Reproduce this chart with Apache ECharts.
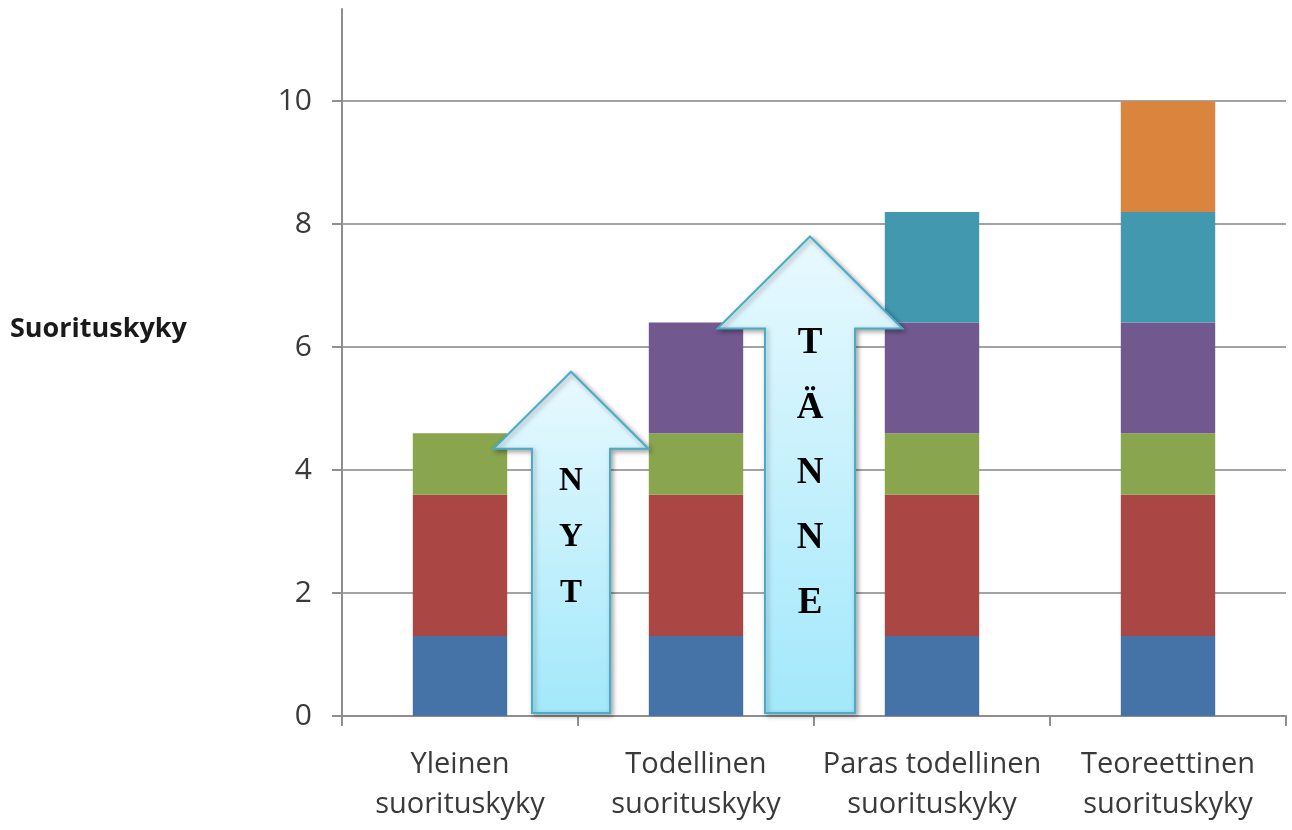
<!DOCTYPE html>
<html>
<head>
<meta charset="utf-8">
<script src="https://cdn.jsdelivr.net/npm/echarts@6/dist/echarts.min.js"></script>
<style>
  html, body { margin: 0; padding: 0; background: #fff; }
  #chart { width: 1292px; height: 830px; }
</style>
</head>
<body>
<div id="chart"></div>
<script>
// Categories along the x axis
const categories = [
  'Yleinen\nsuorituskyky',
  'Todellinen\nsuorituskyky',
  'Paras todellinen\nsuorituskyky',
  'Teoreettinen\nsuorituskyky'
];

// Stacked segment heights per category (bottom to top)
const segBlue   = [1.3, 1.3, 1.3, 1.3];
const segRed    = [2.3, 2.3, 2.3, 2.3];
const segGreen  = [1.0, 1.0, 1.0, 1.0];
const segPurple = [null, 1.8, 1.8, 1.8];
const segTeal   = [null, null, 1.8, 1.8];
const segOrange = [null, null, null, 1.8];

// Y axis ticks
const yTicks = [0, 2, 4, 6, 8, 10];

// Arrows: left category index, value of the tip, and the word written inside
const arrowLeftCategory = [0, 1];
const arrowTipValues = [5.6, 7.8];
const arrowWords = ['NYT', 'TÄNNE'];

// Arrow drawing styles (pixels)
const arrowStyles = [
  { dx: -7, shaft: 78, head: 155, headH: 77, font: 33, first: 33, step: 56 },
  { dx: -4, shaft: 90, head: 185, headH: 92, font: 37, first: 15, step: 65 }
];

const segColors = ['#4572A7', '#AA4643', '#89A54E', '#71588F', '#4198AF', '#DB843D'];
const segData = [segBlue, segRed, segGreen, segPurple, segTeal, segOrange];

const barSeries = segData.map((d, i) => ({
  type: 'bar',
  stack: 'total',
  data: d,
  barWidth: '40%',
  itemStyle: { color: segColors[i] },
  z: 2
}));

function renderArrow(params, api) {
  const idx = params.dataIndex;
  const st = arrowStyles[idx];
  const left = api.value(0);
  const pL = api.coord([left, 0]);
  const pR = api.coord([left + 1, 0]);
  const cx = (pL[0] + pR[0]) / 2 + st.dx;
  const yBot = pL[1] - 3;
  const yTip = api.coord([left, api.value(1)])[1];
  const yBase = yTip + st.headH;
  const hs = st.shaft / 2, hh = st.head / 2;
  const pts = [
    [cx, yTip], [cx + hh, yBase], [cx + hs, yBase], [cx + hs, yBot],
    [cx - hs, yBot], [cx - hs, yBase], [cx - hh, yBase]
  ];
  const word = Array.from(arrowWords[idx]);
  const letters = word.map((ch, k) => ({
    type: 'text',
    style: {
      text: ch,
      x: cx,
      y: yBase + st.first + k * st.step,
      align: 'center',
      verticalAlign: 'middle',
      font: 'bold ' + st.font + 'px "Liberation Serif", "DejaVu Serif", serif',
      fill: '#000'
    }
  }));
  return {
    type: 'group',
    children: [
      {
        type: 'polygon',
        shape: { points: pts },
        style: {
          fill: {
            type: 'linear', x: 0, y: 0, x2: 0, y2: 1,
            colorStops: [
              { offset: 0, color: '#E9F9FE' },
              { offset: 1, color: '#A2E8FB' }
            ]
          },
          stroke: '#4BACC6',
          lineWidth: 2,
          shadowBlur: 5,
          shadowColor: 'rgba(0,0,0,0.35)',
          shadowOffsetX: 2,
          shadowOffsetY: 2
        }
      }
    ].concat(letters)
  };
}

const chart = echarts.init(document.getElementById('chart'), null, { renderer: 'canvas' });

chart.setOption({
  animation: false,
  backgroundColor: '#fff',
  title: {
    text: 'Suorituskyky',
    left: 10,
    top: 313,
    padding: 0,
    textStyle: {
      fontFamily: '"Open Sans", sans-serif',
      fontWeight: 'bold',
      fontSize: 27,
      lineHeight: 32,
      color: '#1a1a1a'
    }
  },
  grid: { left: 342, right: 6, top: 9, bottom: 114, containLabel: false },
  xAxis: {
    type: 'category',
    data: categories,
    boundaryGap: true,
    axisLine: { show: true, lineStyle: { color: '#8f8f8f', width: 2 } },
    axisTick: { show: true, length: 10, alignWithLabel: false, lineStyle: { color: '#8f8f8f', width: 2 } },
    axisLabel: {
      interval: 0,
      margin: 29,
      fontFamily: '"Open Sans", sans-serif',
      fontSize: 29,
      lineHeight: 40,
      color: '#3a3a3a'
    },
    splitLine: { show: false }
  },
  yAxis: {
    type: 'value',
    min: 0,
    max: 11.5,
    interval: 2,
    axisLine: { show: true, lineStyle: { color: '#8f8f8f', width: 2 } },
    axisTick: { show: true, length: 10, lineStyle: { color: '#8f8f8f', width: 2 } },
    axisLabel: {
      margin: 30,
      fontFamily: '"Open Sans", sans-serif',
      fontSize: 30,
      color: '#3a3a3a',
      showMaxLabel: false,
      formatter: v => (yTicks.indexOf(v) >= 0 ? String(v) : '')
    },
    splitLine: {
      show: true,
      showMinLine: false,
      showMaxLine: false,
      lineStyle: { color: '#a3a3a3', width: 2 }
    }
  },
  series: barSeries.concat([{
    type: 'custom',
    renderItem: renderArrow,
    data: arrowLeftCategory.map((c, i) => [c, arrowTipValues[i]]),
    z: 5,
    clip: false,
    silent: true
  }])
});
</script>
</body>
</html>
